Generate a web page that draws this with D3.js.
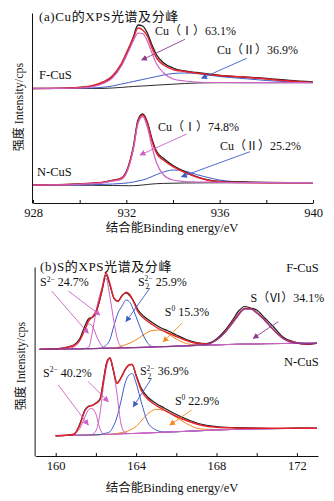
<!DOCTYPE html>
<html>
<head>
<meta charset="utf-8">
<script src="https://cdn.jsdelivr.net/npm/d3@7"></script>
<style>
  body { margin: 0; background: #fff; }
  svg text { font-family: "Liberation Serif", "Noto Sans CJK SC", serif; fill: #111; }
</style>
</head>
<body>
<div id="chart"></div>
<script>
// ---- Cu 2p3/2 spectra (panel a) ----
var cuEnergy = [928, 929, 930, 930.5, 931, 931.4, 931.8, 932.1, 932.3, 932.5, 932.7, 932.9, 933.1, 933.3, 933.6, 934, 934.5, 935, 935.5, 936, 937, 938, 939, 940];

var cuFRaw  = [114.5, 114.7, 115.5, 116.8, 120.5, 126, 138.5, 154, 166, 178, 177, 170, 158, 148, 140, 135, 132, 130.5, 129, 127.5, 126, 124.5, 122.5, 121];
var cuFFit  = [114.5, 114.7, 115.5, 117, 121, 127, 140, 155, 165, 175, 173, 167, 155, 145, 138, 133.5, 131.5, 130, 128.5, 127.5, 126, 124, 122, 120.5];
var cuFCu1  = [114.5, 114.6, 115, 116, 119.5, 125, 137.5, 152, 162, 170, 169.5, 162, 150, 139, 130, 124, 122, 121, 120.5, 120.5, 120.4, 120.3, 120.3, 120.3];
var cuFCu2  = [114.5, 114.5, 114.7, 115, 115.8, 117, 119, 120.5, 121.5, 122.5, 123.5, 124.5, 125.5, 126.5, 128, 129.5, 130, 129.5, 128, 126.5, 124.5, 122.5, 121.2, 120.5];
var cuFBase = [114.5, 114.5, 114.5, 114.5, 114.6, 115, 115.6, 116.2, 116.5, 116.8, 117, 117.3, 117.6, 117.9, 118.3, 118.8, 119.5, 120, 120.2, 120.3, 120.3, 120.3, 120.3, 120.3];

var cuNRaw  = [18, 18.2, 19, 19.7, 20.7, 22.5, 25, 37.5, 56, 83, 89, 81, 64, 51.5, 44.5, 37.5, 31.5, 26.5, 23, 21.5, 21, 20.5, 20.3, 20.3];
var cuNFit  = [18, 18.2, 19, 19.7, 20.7, 22.5, 24.7, 37, 55, 81.5, 88, 79.7, 62, 49.7, 42.7, 36.3, 30.7, 26, 22.8, 21.3, 20.5, 20.2, 20.2, 20.3];
var cuNCu1  = [18, 18.1, 18.7, 19.3, 20.2, 21.8, 23.8, 35.5, 53.5, 79.5, 86.3, 76, 56, 40, 28, 23, 21.5, 21, 20.8, 20.6, 20.4, 20.3, 20.3, 20.3];
var cuNCu2  = [18, 18, 18.1, 18.3, 18.6, 19, 19.5, 20.2, 21, 22, 23, 24.5, 26.5, 28.5, 31, 33, 32, 28.5, 25.5, 23, 21, 20.5, 20.3, 20.3];
var cuNBase = [18, 18, 17.8, 17.7, 17.6, 17.5, 17.4, 17.3, 17.3, 17.6, 18, 18.5, 19, 19.3, 19.6, 19.8, 20, 20.1, 20.2, 20.2, 20.3, 20.3, 20.3, 20.3];

var cuTicks = [928, 930, 932, 934, 936, 938, 940];

// ---- S 2p spectra (panel b) ----
var sEnergyF = [159.2, 160, 160.5, 160.9, 161.2, 161.45, 161.65, 161.85, 162.05, 162.3, 162.5, 162.7, 162.9, 163.1, 163.3, 163.5, 163.7, 163.9, 164.1, 164.4, 164.8, 165.2, 165.6, 166.0, 166.5, 167.0, 167.5, 168.0, 168.4, 168.8, 169.1, 169.4, 169.7, 170.0, 170.4, 170.8, 171.3, 171.9, 172.5, 173.0];

var sFRaw  = [106.5, 107, 108.5, 111, 117.5, 130, 137.5, 139, 146, 164.5, 181, 170.5, 157.5, 155, 160.5, 163, 160, 154, 146, 139.5, 133.5, 128.5, 125, 121, 116.5, 113.5, 112.5, 117, 125, 136, 145, 149.5, 148, 146, 138, 130, 119, 114, 111.5, 113];
var sFFit  = [106.7, 107, 108.5, 110.5, 116, 127, 135.5, 139.5, 147, 166, 183.3, 172, 158, 154.5, 160, 163.7, 161, 153, 144, 137.5, 131.5, 126.5, 123, 119.5, 115.5, 112.7, 112, 116, 123.5, 134, 142, 147.5, 147.5, 143.5, 136, 127, 118, 113.5, 112, 112.7];
var sFBase = [106.7, 107, 107.1, 107.2, 107.2, 107.3, 107.3, 107.4, 107.5, 107.6, 107.7, 107.8, 107.9, 108, 108.1, 108.2, 108.3, 108.4, 108.5, 108.7, 109, 109.3, 109.5, 109.8, 110.1, 110.5, 110.8, 111.1, 111.4, 111.6, 111.8, 111.9, 112, 112.1, 112.3, 112.4, 112.5, 112.6, 112.7, 112.7];
var sFS2a  = [106.7, 107, 107.2, 109, 115, 126, 132, 129, 119, 110, 108, 107.8, 107.9, 108, 108.1, 108.2, 108.3, 108.4, 108.5, 108.7, 109, 109.3, 109.5, 109.8, 110.1, 110.5, 110.8, 111.1, 111.4, 111.6, 111.8, 111.9, 112, 112.1, 112.3, 112.4, 112.5, 112.6, 112.7, 112.7];
var sFS2b  = [106.7, 107, 107.1, 107.2, 107.2, 107.5, 109, 127, 149, 168, 177.7, 159, 134, 115, 109, 108.2, 108.3, 108.4, 108.5, 108.7, 109, 109.3, 109.5, 109.8, 110.1, 110.5, 110.8, 111.1, 111.4, 111.6, 111.8, 111.9, 112, 112.1, 112.3, 112.4, 112.5, 112.6, 112.7, 112.7];
var sFS22  = [106.7, 107, 107.1, 107.2, 107.2, 107.3, 107.3, 107.4, 107.5, 108, 110.5, 116.5, 130.5, 143, 150, 156, 153.5, 144.5, 134, 119, 109.5, 109.3, 109.5, 109.8, 110.1, 110.5, 110.8, 111.1, 111.4, 111.6, 111.8, 111.9, 112, 112.1, 112.3, 112.4, 112.5, 112.6, 112.7, 112.7];
var sFS0   = [106.7, 107, 107.1, 107.2, 107.2, 107.3, 107.3, 107.4, 107.5, 107.6, 107.7, 107.8, 108, 108.7, 110, 111.5, 113, 115, 117.5, 121.5, 125.5, 126, 122, 117, 112.5, 111, 110.8, 111.1, 111.4, 111.6, 111.8, 111.9, 112, 112.1, 112.3, 112.4, 112.5, 112.6, 112.7, 112.7];
var sFS6   = [106.7, 107, 107.1, 107.2, 107.2, 107.3, 107.3, 107.4, 107.5, 107.6, 107.7, 107.8, 107.9, 108, 108.1, 108.2, 108.3, 108.4, 108.5, 108.7, 109, 109.3, 109.5, 109.8, 110.1, 111, 111.5, 116, 123, 133, 141, 147, 147, 143, 135.5, 127, 117.5, 113, 112.5, 112.7];

var sEnergyN = [160, 160.5, 160.9, 161.2, 161.45, 161.65, 161.8, 162.0, 162.2, 162.4, 162.55, 162.7, 162.85, 163.05, 163.25, 163.45, 163.65, 163.8, 164.0, 164.25, 164.6, 165.0, 165.4, 165.9, 166.5, 167.2, 168.0, 169.0, 170.0, 171.0, 172.0, 173.0];

var sNRaw  = [20.3, 20.7, 21.5, 32, 46, 50, 50.5, 53, 57, 79, 94.5, 98, 87, 73, 78.5, 86.5, 91, 91.5, 81, 68, 58.5, 52.5, 48, 42.5, 37, 32, 29.5, 28.3, 28, 27.5, 28, 27.7];
var sNFit  = [20.3, 20.7, 21.5, 31, 45, 49.5, 50.5, 52.5, 56, 78, 94, 98.3, 88, 72.5, 78, 86, 91, 91.7, 80, 66, 56.5, 50.5, 46, 40.5, 35.5, 31, 28.7, 28, 27.7, 27.7, 27.7, 27.7];
var sNBase = [20.3, 20.5, 20.7, 20.8, 20.9, 21, 21.1, 21.2, 21.4, 21.5, 21.6, 21.7, 21.8, 22, 22.1, 22.3, 22.4, 22.5, 22.6, 22.8, 23.1, 23.4, 23.8, 24.2, 24.7, 25.3, 26, 26.7, 27.1, 27.4, 27.6, 27.7];
var sNS2a  = [20.3, 20.5, 22.5, 27.5, 39, 46.5, 47.5, 42, 27.5, 21.5, 21.6, 21.7, 21.8, 22, 22.1, 22.3, 22.4, 22.5, 22.6, 22.8, 23.1, 23.4, 23.8, 24.2, 24.7, 25.3, 26, 26.7, 27.1, 27.4, 27.6, 27.7];
var sNS2b  = [20.3, 20.5, 20.7, 20.8, 20.9, 21, 21.5, 25, 42, 74, 91, 97, 87, 62, 32, 23.5, 22.5, 22.5, 22.6, 22.8, 23.1, 23.4, 23.8, 24.2, 24.7, 25.3, 26, 26.7, 27.1, 27.4, 27.6, 27.7];
var sNS22  = [20.3, 20.5, 20.7, 20.8, 20.9, 21, 21.1, 21.2, 21.4, 22.5, 23, 24.3, 29, 39, 55, 72.7, 81, 82.5, 73, 54.5, 33, 26, 24, 24.2, 24.7, 25.3, 26, 26.7, 27.1, 27.4, 27.6, 27.7];
var sNS0   = [20.3, 20.5, 20.7, 20.8, 20.9, 21, 21.1, 21.2, 21.4, 21.5, 21.6, 21.7, 22, 22.5, 23.3, 24, 25.5, 27, 29.5, 35, 42.5, 46.7, 45.5, 40, 32.5, 27, 26.5, 27, 27.3, 27.5, 27.7, 27.8];

var sTicks = [160, 162, 164, 166, 168, 170, 172];

var colors = {
    raw: "#1c1c1c",
    fit: "#e3222b",
    pink: "#cd62c6",
    purple: "#8c3c90",
    blue: "#3d5cc6",
    orange: "#f5881f",
    base: "#2a2a2a"
};

var width = 334, height = 501;

var svg = d3.select("#chart").append("svg")
    .attr("width", width)
    .attr("height", height);

// arrow heads, one per colour
var defs = svg.append("defs");
Object.keys(colors).forEach(function (k) {
    defs.append("marker")
        .attr("id", "arrow-" + k)
        .attr("viewBox", "0 0 8 8")
        .attr("refX", 7)
        .attr("refY", 4)
        .attr("markerWidth", 6)
        .attr("markerHeight", 6)
        .attr("markerUnits", "userSpaceOnUse")
        .attr("orient", "auto")
        .append("path")
        .attr("d", "M0,0 L8,4 L0,8 z")
        .attr("fill", colors[k]);
});

function drawSpectrum(g, x, y, energy, values, color, lw) {
    var line = d3.line()
        .x(function (d, i) { return x(energy[i]); })
        .y(function (d) { return y(d); })
        .curve(d3.curveMonotoneX);
    g.append("path")
        .datum(values)
        .attr("d", line)
        .attr("fill", "none")
        .attr("stroke", color)
        .attr("stroke-width", lw)
        .attr("stroke-linejoin", "round");
}

function drawArrow(g, x, y, from, to, colorKey) {
    g.append("line")
        .attr("x1", x(from[0])).attr("y1", y(from[1]))
        .attr("x2", x(to[0])).attr("y2", y(to[1]))
        .attr("stroke", colors[colorKey])
        .attr("stroke-width", 0.9)
        .attr("marker-end", "url(#arrow-" + colorKey + ")");
}

function drawAxes(g, x, y, ticks, labelEvery, labelY) {
    // minor ticks every 2 eV, labels every 4 eV
    var xAxis = d3.axisBottom(x)
        .tickValues(ticks)
        .tickSizeInner(-3)
        .tickSizeOuter(0)
        .tickPadding(5)
        .tickFormat(function (d) { return ((d - ticks[0]) % labelEvery === 0) ? d : ""; });
    var gx = g.append("g")
        .attr("transform", "translate(0," + y.range()[0] + ")")
        .call(xAxis);
    gx.attr("font-family", null).attr("font-size", null);
    gx.selectAll("text").attr("font-size", 12.5).attr("fill", "#111");
    gx.selectAll("line, path").attr("stroke", "#111");

    var gy = g.append("g")
        .attr("transform", "translate(" + (x.range()[0] - 1) + ",0)")
        .call(d3.axisLeft(y).tickValues([]).tickSizeOuter(0));
    gy.selectAll("path").attr("stroke", "#111");

    g.append("text")
        .attr("x", 172)
        .attr("y", labelY)
        .attr("text-anchor", "middle")
        .attr("font-size", 12.5)
        .text("结合能Binding energy/eV");
}

function addText(g, x, y, pos, str, size, anchor) {
    return g.append("text")
        .attr("x", x(pos[0]))
        .attr("y", y(pos[1]))
        .attr("font-size", size || 12)
        .attr("text-anchor", anchor || "start")
        .text(str);
}

// S label with superscript charge and optional subscript count
function addSLabel(g, x, y, pos, sub, rest) {
    var t = g.append("text")
        .attr("x", x(pos[0]))
        .attr("y", y(pos[1]))
        .attr("font-size", 12);
    t.append("tspan").text("S");
    t.append("tspan").attr("dy", -4.5).attr("font-size", 7.5).text("2−");
    if (sub) {
        t.append("tspan").attr("dx", -7).attr("dy", 8).attr("font-size", 7.5).text("2");
        t.append("tspan").attr("dx", 3.5).attr("dy", -3.5).text(" " + rest);
    } else {
        t.append("tspan").attr("dy", 4.5).text(" " + rest);
    }
}

// ---------------- panel (a): Cu ----------------
var xa = d3.scaleLinear().domain([928, 940]).range([33, 313]);
var ya = d3.scaleLinear().domain([0, 190]).range([203, 13]);
var ga = svg.append("g");

drawAxes(ga, xa, ya, cuTicks, 4, 232);

drawSpectrum(ga, xa, ya, cuEnergy, cuFBase, colors.base, 1);
drawSpectrum(ga, xa, ya, cuEnergy, cuFCu2, colors.blue, 1);
drawSpectrum(ga, xa, ya, cuEnergy, cuFRaw, colors.raw, 1.3);
drawSpectrum(ga, xa, ya, cuEnergy, cuFFit, colors.fit, 1.5);
drawSpectrum(ga, xa, ya, cuEnergy, cuFCu1, colors.pink, 1.2);

drawSpectrum(ga, xa, ya, cuEnergy, cuNBase, colors.base, 1);
drawSpectrum(ga, xa, ya, cuEnergy, cuNCu2, colors.blue, 1);
drawSpectrum(ga, xa, ya, cuEnergy, cuNRaw, colors.raw, 1.3);
drawSpectrum(ga, xa, ya, cuEnergy, cuNFit, colors.fit, 1.5);
drawSpectrum(ga, xa, ya, cuEnergy, cuNCu1, colors.pink, 1.2);

drawArrow(ga, xa, ya, [934.51, 163.7], [932.66, 143], "purple");
drawArrow(ga, xa, ya, [937.16, 144.7], [935.23, 124.7], "blue");
drawArrow(ga, xa, ya, [934.59, 69], [932.59, 48], "pink");
drawArrow(ga, xa, ya, [937.3, 51.3], [934.37, 26.3], "blue");

addText(ga, xa, ya, [928.26, 182.5], "(a)Cu的XPS光谱及分峰", 13).attr("letter-spacing", 0.6);
addText(ga, xa, ya, [933.23, 168], "Cu（Ⅰ）63.1%", 12);
addText(ga, xa, ya, [935.89, 149.5], "Cu（Ⅱ）36.9%", 12);
addText(ga, xa, ya, [928.26, 124.5], "F-CuS", 12.5);
addText(ga, xa, ya, [933.36, 72.5], "Cu（Ⅰ）74.8%", 12);
addText(ga, xa, ya, [936.01, 53.5], "Cu（Ⅱ）25.2%", 12);
addText(ga, xa, ya, [928.17, 27.5], "N-CuS", 12.5);

ga.append("text")
    .attr("transform", "translate(23,107) rotate(-90)")
    .attr("text-anchor", "middle")
    .attr("font-size", 12)
    .text("强度 Intensity/cps");

// ---------------- panel (b): S ----------------
var xb = d3.scaleLinear().domain([159, 173.05]).range([35.6, 318]);
var yb = d3.scaleLinear().domain([0, 189]).range([456, 267]);
var gb = svg.append("g");

drawAxes(gb, xb, yb, sTicks, 4, 492);

drawSpectrum(gb, xb, yb, sEnergyF, sFBase, colors.purple, 1);
drawSpectrum(gb, xb, yb, sEnergyF, sFS0, colors.orange, 1);
drawSpectrum(gb, xb, yb, sEnergyF, sFS22, colors.blue, 1);
drawSpectrum(gb, xb, yb, sEnergyF, sFS2a, colors.pink, 1);
drawSpectrum(gb, xb, yb, sEnergyF, sFS2b, colors.pink, 1);
drawSpectrum(gb, xb, yb, sEnergyF, sFRaw, colors.raw, 1.2);
drawSpectrum(gb, xb, yb, sEnergyF, sFFit, colors.fit, 1.4);
drawSpectrum(gb, xb, yb, sEnergyF, sFS6, colors.purple, 1.3);

drawSpectrum(gb, xb, yb, sEnergyN, sNBase, colors.purple, 1);
drawSpectrum(gb, xb, yb, sEnergyN, sNS0, colors.orange, 1);
drawSpectrum(gb, xb, yb, sEnergyN, sNS22, colors.blue, 1);
drawSpectrum(gb, xb, yb, sEnergyN, sNS2a, colors.pink, 1);
drawSpectrum(gb, xb, yb, sEnergyN, sNS2b, colors.pink, 1);
drawSpectrum(gb, xb, yb, sEnergyN, sNRaw, colors.raw, 1.2);
drawSpectrum(gb, xb, yb, sEnergyN, sNFit, colors.fit, 1.4);

drawArrow(gb, xb, yb, [159.80, 165], [161.62, 122.7], "pink");
drawArrow(gb, xb, yb, [160.63, 165], [162.2, 141], "pink");
drawArrow(gb, xb, yb, [164.69, 168], [163.5, 134.5], "blue");
drawArrow(gb, xb, yb, [166.28, 132.7], [165.35, 114.3], "orange");
drawArrow(gb, xb, yb, [171.07, 134.3], [169.83, 117.7], "purple");

drawArrow(gb, xb, yb, [160.13, 71], [161.62, 31], "pink");
drawArrow(gb, xb, yb, [161.62, 74.3], [162.62, 54.3], "pink");
drawArrow(gb, xb, yb, [164.77, 77.7], [163.86, 49.3], "blue");
drawArrow(gb, xb, yb, [166.76, 46], [165.68, 31], "orange");

addText(gb, xb, yb, [159.22, 185.5], "(b)S的XPS光谱及分峰", 13).attr("letter-spacing", 0.6);
addText(gb, xb, yb, [173.09, 184.5], "F-CuS", 12.5, "end");
addSLabel(gb, xb, yb, [159.22, 170], false, "24.7%");
addSLabel(gb, xb, yb, [164.09, 170.5], true, "25.9%");
var s0F = addText(gb, xb, yb, [165.43, 140.5], "S", 12);
s0F.append("tspan").attr("dy", -4.5).attr("font-size", 7.5).text("0");
s0F.append("tspan").attr("dy", 4.5).text(" 15.3%");
addText(gb, xb, yb, [169.69, 154.5], "S（Ⅵ）34.1%", 12);

addText(gb, xb, yb, [173.09, 90.5], "N-CuS", 12.5, "end");
addSLabel(gb, xb, yb, [159.37, 79.5], false, "40.2%");
addSLabel(gb, xb, yb, [164.19, 81], true, "36.9%");
var s0N = addText(gb, xb, yb, [165.93, 51.5], "S", 12);
s0N.append("tspan").attr("dy", -4.5).attr("font-size", 7.5).text("0");
s0N.append("tspan").attr("dy", 4.5).text(" 22.9%");

gb.append("text")
    .attr("transform", "translate(25,366) rotate(-90)")
    .attr("text-anchor", "middle")
    .attr("font-size", 12)
    .text("强度 Intensity/cps");
</script>
</body>
</html>
